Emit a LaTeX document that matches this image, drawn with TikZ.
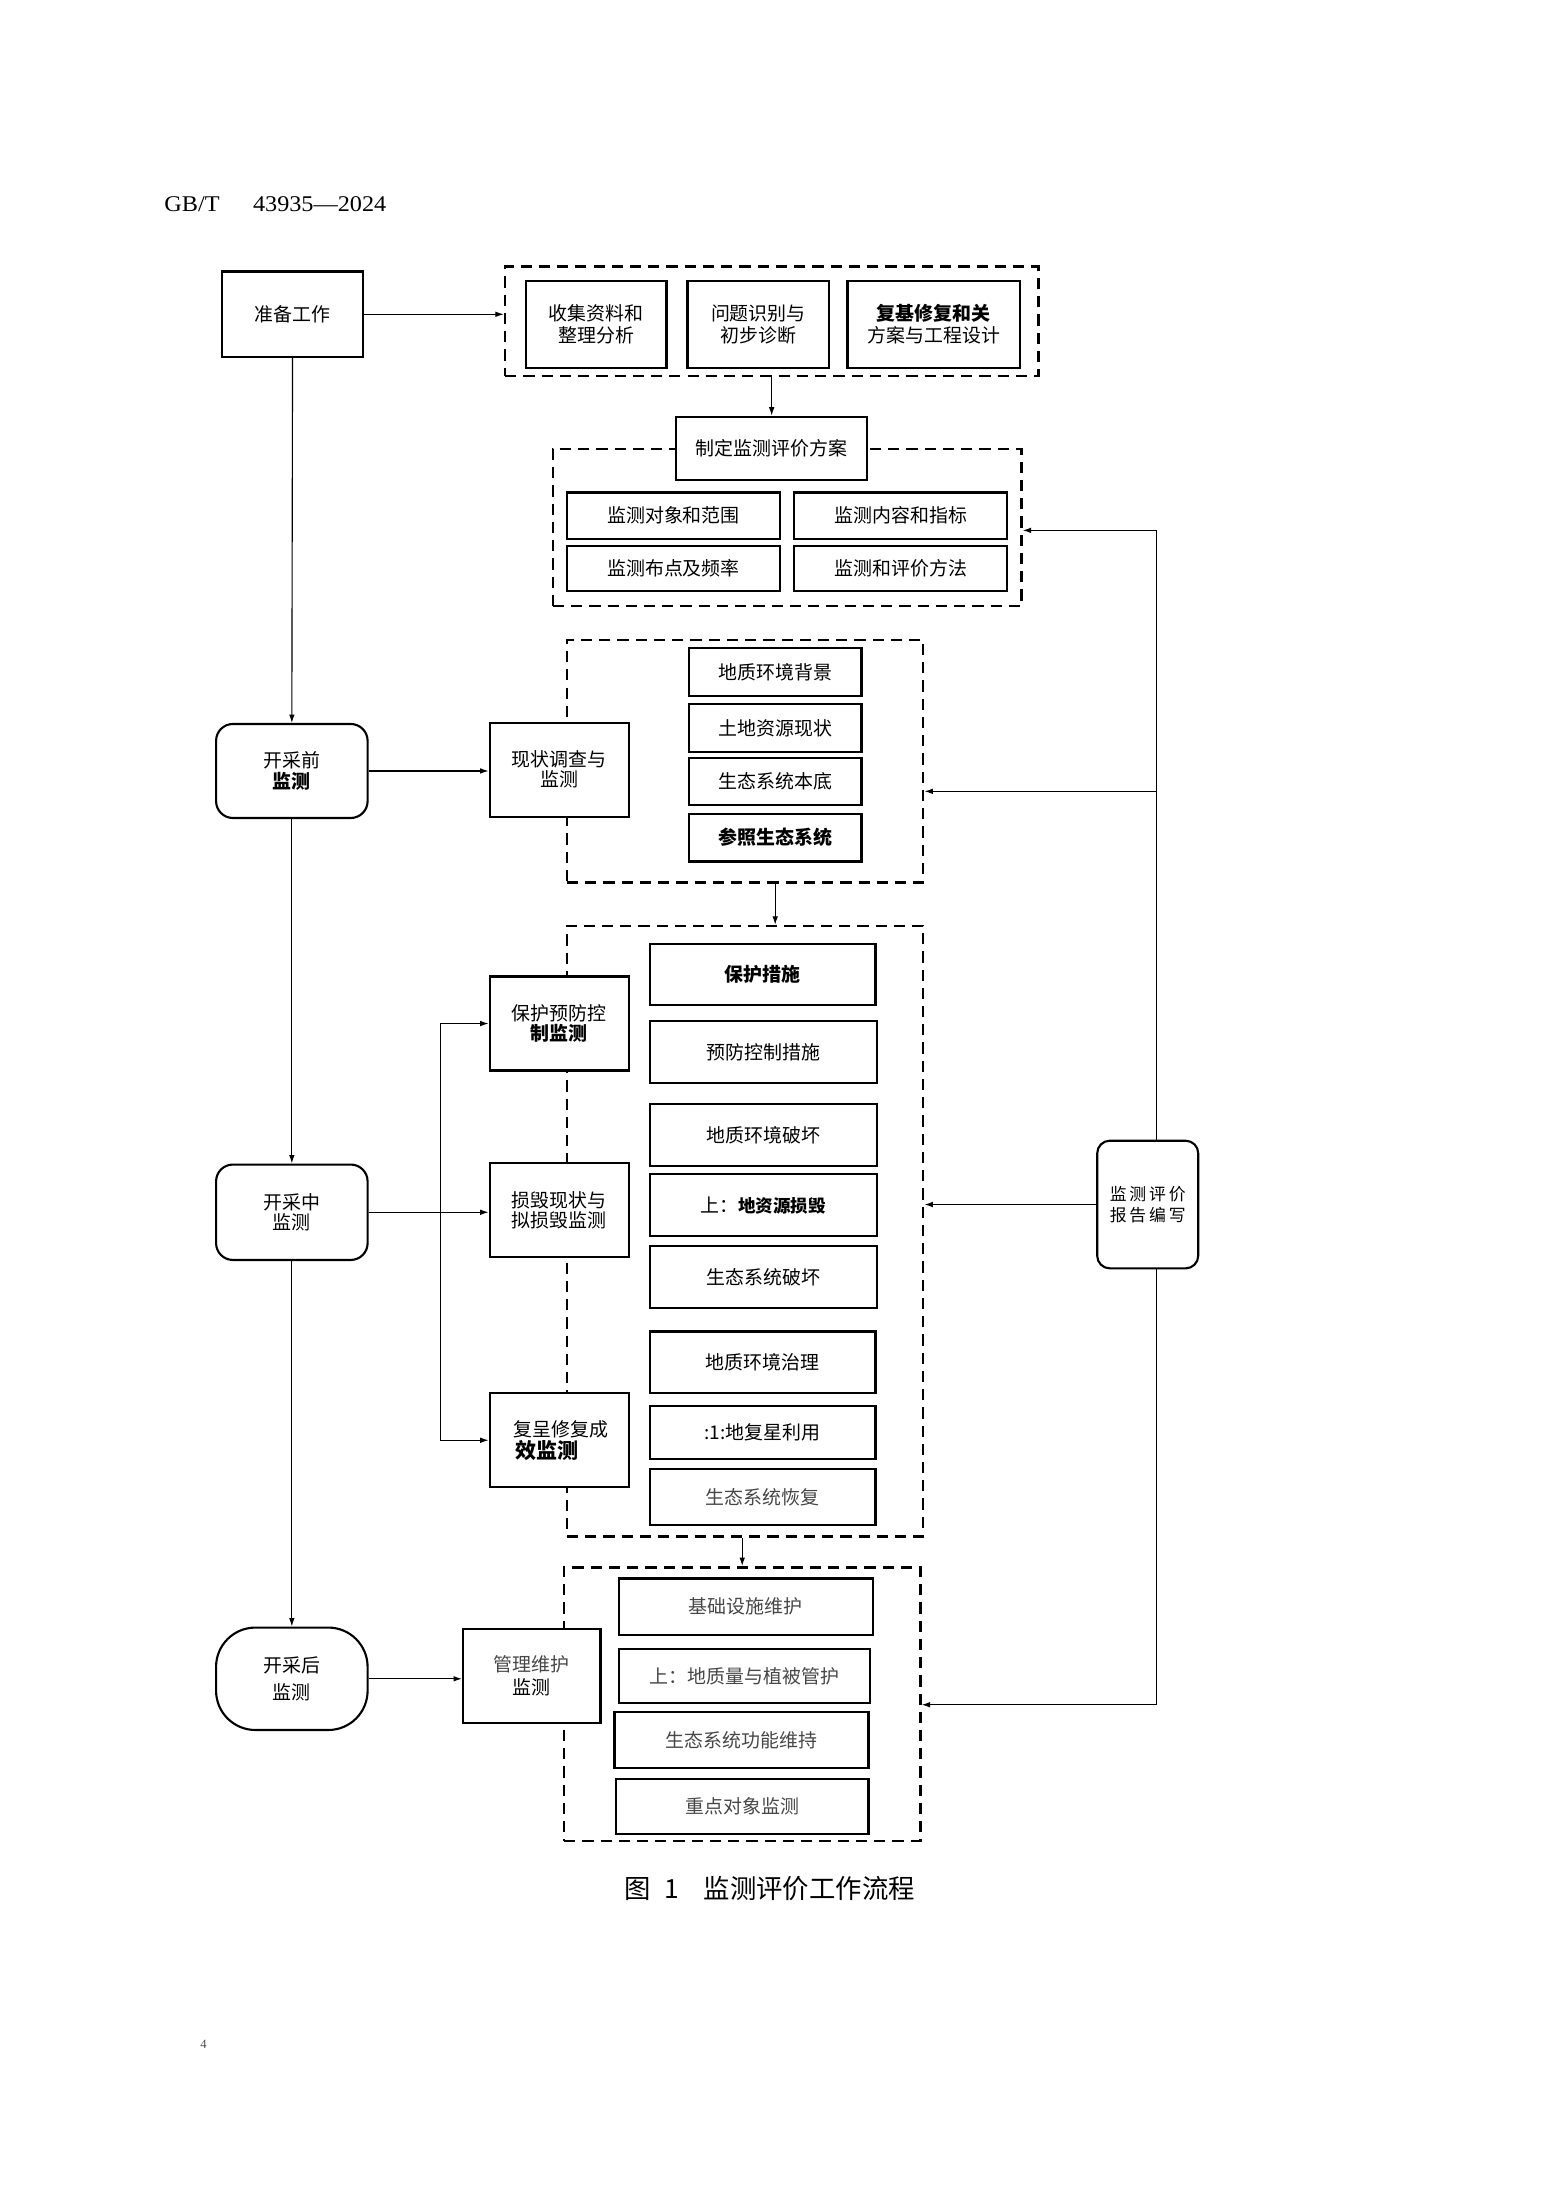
\documentclass[tikz,border=0pt]{standalone}
\usepackage{fontspec}
\setmainfont{Noto Sans CJK SC}
\newfontfamily\hdr{Liberation Serif}
\usetikzlibrary{arrows.meta,calc}
\tikzset{
  box/.style={draw, line width=1.5pt, fill=white, inner sep=0pt, align=center,
    font=\fontsize{13.5}{14.5}\selectfont},
  rbox/.style={box, rounded corners=12pt},
  grp/.style={draw, line width=1.8pt, dash pattern=on 8pt off 5pt, inner sep=0pt},
  arr/.style={line width=0.8pt, -{Latex[length=6pt,width=4pt]}},
  ln/.style={line width=0.8pt},
  lite/.style={text=black!72},
}
\begin{document}
\begin{tikzpicture}[x=1pt,y=-1pt]
\useasboundingbox (0,0) rectangle (1111,1568);
% header and page number
\node[anchor=base west, inner sep=0pt, font=\hdr\fontsize{16}{18}\selectfont] (hd) at (117,151)
  {\scalebox{1.08}[1]{GB/T\hspace{22pt}43935—2024}};
\node[inner sep=0pt, font=\hdr\fontsize{9}{10}\selectfont, text=black!70] (pg) at (145,1457) {4};

% ---------- groups (dashed) ----------
\node[grp, minimum width=380pt, minimum height=78pt] (g1) at (550,229) {};
\node[grp, minimum width=334pt, minimum height=112pt] (g2) at (561,376) {};
\node[grp, minimum width=254pt, minimum height=173pt] (g3) at (531,542.5) {};
\node[grp, minimum width=254pt, minimum height=435pt] (g4) at (531,877.5) {};
\node[grp, minimum width=254pt, minimum height=195pt] (g5) at (529,1214.5) {};

% ---------- top ----------
\node[box, minimum width=101pt, minimum height=61pt] (zb) at (208.5,224) {准备工作};
\node[box, minimum width=100pt, minimum height=62pt, font=\fontsize{13.5}{15.5}\selectfont] (b11) at (425,231) {收集资料和\\整理分析};
\node[box, minimum width=101pt, minimum height=62pt, font=\fontsize{13.5}{15.5}\selectfont] (b12) at (540.5,231) {问题识别与\\初步诊断};
\node[box, minimum width=123pt, minimum height=62pt, font=\fontsize{13.5}{15.5}\selectfont] (b13) at (665.5,231) {\textbf{复基修复和关}\\方案与工程设计};

\node[box, minimum width=136pt, minimum height=45pt] (p) at (550,319.5) {制定监测评价方案};
\node[box, minimum width=152pt, minimum height=33pt] (b21) at (480,367.5) {监测对象和范围};
\node[box, minimum width=152pt, minimum height=33pt] (b22) at (642,367.5) {监测内容和指标};
\node[box, minimum width=152pt, minimum height=32pt] (b23) at (480,405) {监测布点及频率};
\node[box, minimum width=152pt, minimum height=32pt] (b24) at (642,405) {监测和评价方法};

% ---------- before mining ----------
\node[rbox, minimum width=108pt, minimum height=67pt] (qb) at (208,549.5) {开采前\\\textbf{监测}};
\node[box, minimum width=99pt, minimum height=67pt] (xz) at (398.5,548.5) {现状调查与\\监测};
\node[box, minimum width=123pt, minimum height=34pt] (b31) at (552.5,479) {地质环境背景};
\node[box, minimum width=123pt, minimum height=34pt] (b32) at (552.5,519) {土地资源现状};
\node[box, minimum width=123pt, minimum height=34pt] (b33) at (552.5,557) {生态系统本底};
\node[box, minimum width=123pt, minimum height=34pt] (b34) at (552.5,597) {\textbf{参照生态系统}};

% ---------- during mining ----------
\node[rbox, minimum width=108pt, minimum height=68pt] (zm) at (208,864) {开采中\\监测};
\node[box, minimum width=99pt, minimum height=67pt] (bh) at (398.5,729.5) {保护预防控\\\textbf{制监测}};
\node[box, minimum width=99pt, minimum height=67pt] (sh) at (398.5,862.5) {损毁现状与\\拟损毁监测};
\node[box, minimum width=99pt, minimum height=67pt, align=left] (fy) at (398.5,1026.5)
  {\hspace{3pt}复呈修复成\\[1pt]{\fontsize{15}{15}\selectfont\bfseries\hspace{4pt}效监测}};
\node[box, minimum width=161pt, minimum height=43pt] (b41) at (543.5,694.5) {\textbf{保护措施}};
\node[box, minimum width=162pt, minimum height=44pt] (b42) at (544,750) {预防控制措施};
\node[box, minimum width=162pt, minimum height=44pt] (b43) at (544,809) {地质环境破坏};
\node[box, minimum width=162pt, minimum height=44pt] (b44) at (544,859) {上：{\fontsize{12.5}{14}\selectfont\bfseries 地资源损毁}};
\node[box, minimum width=162pt, minimum height=44pt] (b45) at (544,910) {生态系统破坏};
\node[box, minimum width=161pt, minimum height=44pt] (b46) at (543.5,971) {地质环境治理};
\node[box, minimum width=161pt, minimum height=38pt] (b47) at (543.5,1021) {:1:地复星利用};
\node[box, minimum width=161pt, minimum height=40pt, lite] (b48) at (543.5,1067) {生态系统恢复};

% ---------- after mining ----------
\node[box, rounded corners=28pt, minimum width=108pt, minimum height=73pt, font=\fontsize{13.5}{19}\selectfont] (hm) at (208,1196.5) {开采后\\监测};
\node[box, minimum width=98pt, minimum height=67pt, font=\fontsize{13.5}{16.5}\selectfont] (gl) at (379,1194.5) {{\color{black!72}管理维护}\\监测};
\node[box, minimum width=181pt, minimum height=40pt, lite] (b51) at (531.5,1145) {基础设施维护};
\node[box, minimum width=179pt, minimum height=39pt, lite] (b52) at (530.5,1194.5) {上：地质量与植被管护};
\node[box, minimum width=181pt, minimum height=40pt, lite] (b53) at (528.5,1240) {生态系统功能维持};
\node[box, minimum width=180pt, minimum height=39pt, lite] (b54) at (529,1287.5) {重点对象监测};

% ---------- report ----------
\node[box, rounded corners=9pt, minimum width=72pt, minimum height=91pt, font=\fontsize{12}{15}\selectfont] (rep) at (818,858.5)
  {监\,测\,评\,价\\报\,告\,编\,写};

% ---------- connectors ----------
\draw[arr] (zb.east) -- (zb.east -| g1.west);
\draw[arr] (g1.south) -- (p.north);
\draw[arr] (zb.south) -- (qb.north);
\draw[arr] (qb.south) -- (zm.north);
\draw[arr] (zm.south) -- (hm.north);
\draw[arr] (qb.east) -- (qb.east -| xz.west);
\draw[arr] (zm.east) -- (zm.east -| sh.west);
\draw[arr] (hm.east) -- (hm.east -| gl.west);
\coordinate (br) at (314,864);
\draw[arr] (br) |- (bh.west);
\draw[arr] (br) |- (fy.west);
\draw[arr] (g3.south -| b34.south) -- (g4.north -| b34.south);
\draw[arr] (g4.south -| g5.north) -- (g5.north);

% feedback
\coordinate (rt) at (824,378);
\coordinate (rm) at (824,564);
\coordinate (rb) at (824,1215);
\draw[ln] (rt) -- (rt |- rep.north);
\draw[ln] (rt |- rep.south) -- (rb);
\draw[arr] (rt) -- (rt -| g2.east);
\draw[arr] (rm) -- (rm -| g3.east);
\draw[arr] (rep.west) -- (rep.west -| g4.east);
\draw[arr] (rb) -- (rb -| g5.east);

% caption
\node[inner sep=0pt, font=\fontsize{18.8}{20}\selectfont] (cap) at (548.5,1346)
  {图\hspace{10pt}1\hspace{17.5pt}监测评价工作流程};
\end{tikzpicture}
\end{document}
